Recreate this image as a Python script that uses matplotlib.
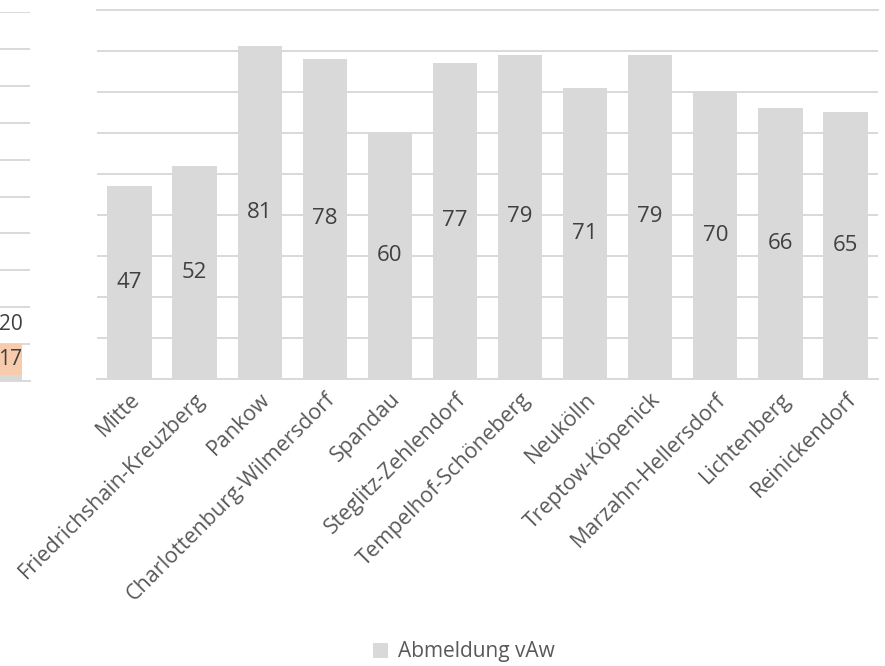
import matplotlib
matplotlib.use("Agg")
import matplotlib.pyplot as plt
import numpy as np

plt.rcParams['font.family'] = ['Open Sans', 'DejaVu Sans']

bezirke = ["Mitte", "Friedrichshain-Kreuzberg", "Pankow", "Charlottenburg-Wilmersdorf",
           "Spandau", "Steglitz-Zehlendorf", "Tempelhof-Schöneberg", "Neukölln",
           "Treptow-Köpenick", "Marzahn-Hellersdorf", "Lichtenberg", "Reinickendorf"]
abmeldung = [47, 52, 81, 78, 60, 77, 79, 71, 79, 70, 66, 65]

# neighbouring chart, only its right edge is on the page
links_grau = [3]
links_orange = [17]

GRID = "#d9d9d9"
BAR = "#d9d9d9"
ORANGE = "#f8cbad"
TXT = "#404040"
TICK = "#595959"

W, H = 885, 666
fig = plt.figure(figsize=(W / 100, H / 100), dpi=100)

# main chart
ax = fig.add_axes([97 / W, 1 - 379 / H, 781 / W, 369.5 / H])
x = np.arange(len(bezirke))
bars = ax.bar(x, abmeldung, width=0.68, color=BAR, label="Abmeldung vAw", zorder=2)
ax.set_ylim(0, 90)
ax.set_xlim(-0.5, len(bezirke) - 0.5)
ax.set_yticks(np.arange(0, 91, 10))
ax.yaxis.grid(True, color=GRID, linewidth=1.4, zorder=0)
ax.tick_params(axis="y", left=False, labelleft=False)
ax.tick_params(axis="x", length=0, pad=7)
for s in ["right", "left"]:
    ax.spines[s].set_visible(False)
for s in ["top", "bottom"]:
    ax.spines[s].set_color(GRID)
    ax.spines[s].set_linewidth(1.4)
ax.set_xticks(x)
ax.set_xticklabels(bezirke, rotation=45, ha="right", rotation_mode="anchor",
                   fontsize=15.5, color=TICK)
for b, v in zip(bars, abmeldung):
    ax.text(b.get_x() + b.get_width() / 2, v / 2, str(v), ha="center", va="center",
            fontsize=16, color=TXT, zorder=3)

fig.legend(handles=[bars], labels=["Abmeldung vAw"], loc="center",
           bbox_to_anchor=(464 / W, 1 - 652 / H), frameon=False, fontsize=15,
           labelcolor=TICK, handlelength=0.7, handleheight=0.7, handletextpad=0.5)

# cut-off chart on the left
ax2 = fig.add_axes([-300 / W, 1 - 381 / H, 330 / W, 369 / H])
ax2.bar([0], links_grau, width=0.75, color=BAR, zorder=2)
ax2.bar([0], links_orange, bottom=links_grau, width=0.75, color=ORANGE, zorder=2)
ax2.set_ylim(0, 200)
ax2.set_xlim(-10.35, 0.65)
ax2.set_yticks(np.arange(0, 201, 20))
ax2.yaxis.grid(True, color=GRID, linewidth=1.4, zorder=0)
ax2.tick_params(left=False, labelleft=False, bottom=False, labelbottom=False)
for s in ["top", "right", "left"]:
    ax2.spines[s].set_visible(False)
ax2.spines["bottom"].set_color(GRID)
ax2.spines["bottom"].set_linewidth(1.4)
ax2.text(0, links_grau[0] + links_orange[0] / 2, str(links_orange[0]), ha="center",
         va="center", fontsize=15, color=TXT, zorder=3)
total = links_grau[0] + links_orange[0]
ax2.text(0, total + 5, str(total), ha="center", va="bottom",
         fontsize=15, color=TXT, zorder=3)

fig.savefig("out.png", dpi=100)
